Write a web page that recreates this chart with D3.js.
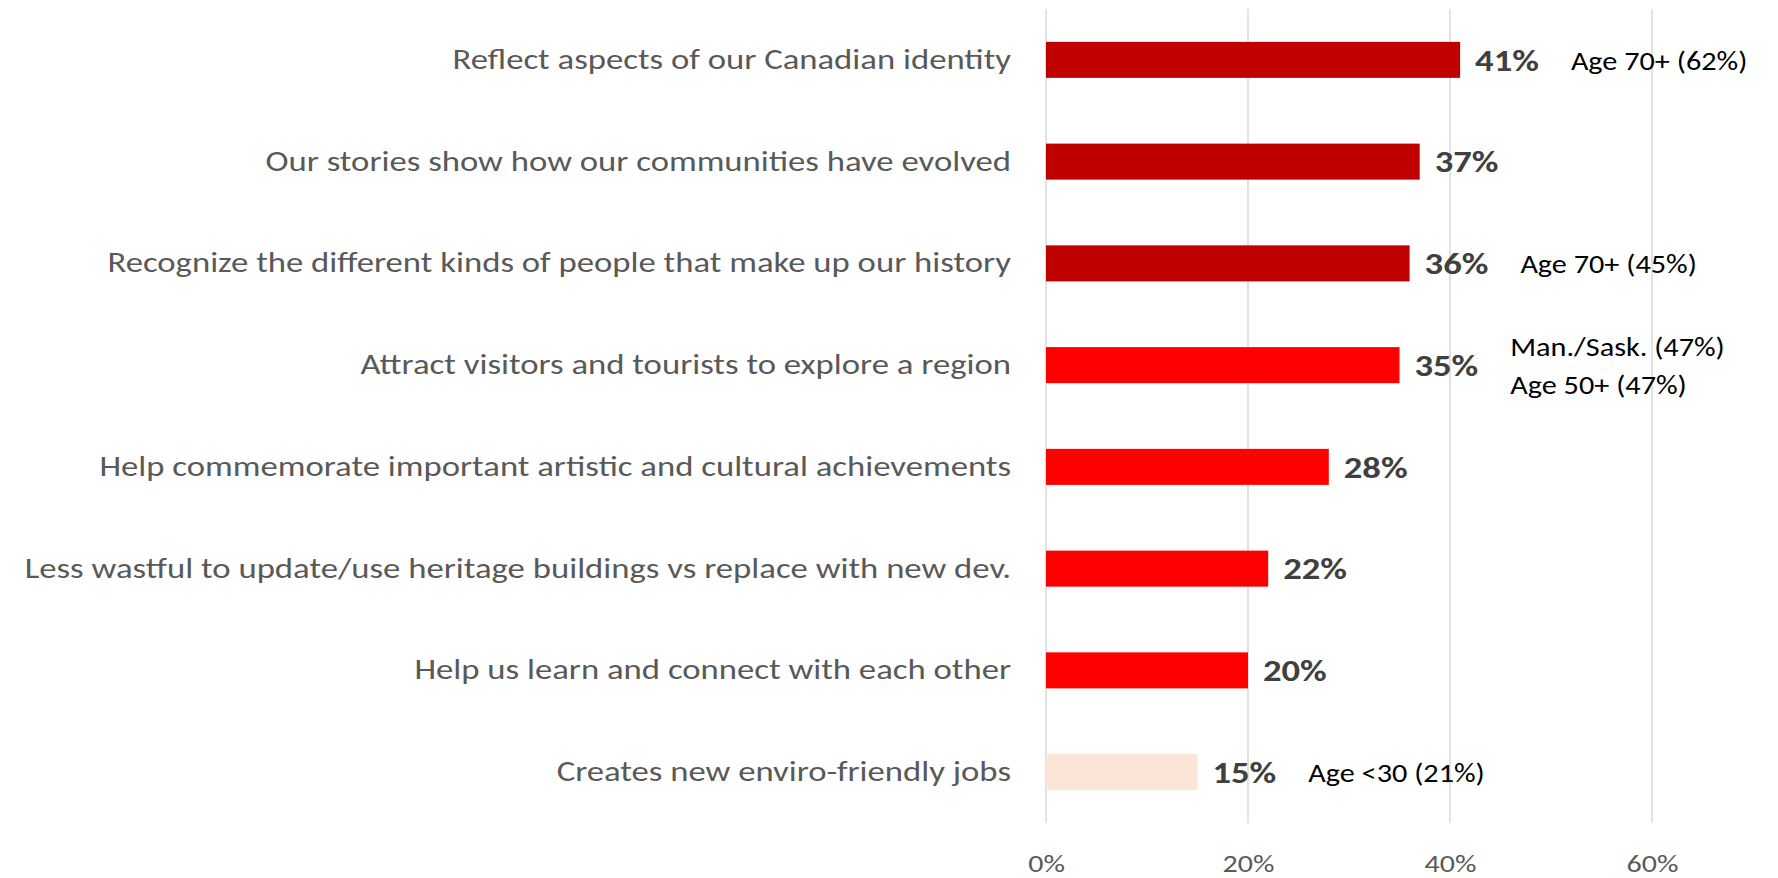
<!DOCTYPE html>
<html>
<head>
<meta charset="utf-8">
<script src="https://cdn.jsdelivr.net/npm/d3@7/dist/d3.min.js"></script>
<style>
  html, body { margin: 0; padding: 0; background: #ffffff; }
  svg { display: block; }
  text { font-family: Carlito, Calibri, Lato, "Open Sans", sans-serif; }
</style>
</head>
<body>
<svg id="chart" width="1778" height="878"></svg>
<script>
// Reasons for valuing heritage places (% of respondents)
const categories = [
  "Reflect aspects of our Canadian identity",
  "Our stories show how our communities have evolved",
  "Recognize the different kinds of people that make up our history",
  "Attract visitors and tourists to explore a region",
  "Help commemorate important artistic and cultural achievements",
  "Less wastful to update/use heritage buildings vs replace with new dev.",
  "Help us learn and connect with each other",
  "Creates new enviro-friendly jobs"
];
const values = [41, 37, 36, 35, 28, 22, 20, 15];
// Shading tier for each bar
const tiers = ["high", "high", "high", "mid", "mid", "mid", "mid", "low"];
// Sub-group call-outs shown beside bars
const notes = [
  ["Age 70+ (62%)"],
  [],
  ["Age 70+ (45%)"],
  ["Man./Sask. (47%)", "Age 50+ (47%)"],
  [],
  [],
  [],
  ["Age <30 (21%)"]
];
const xTicks = [0, 20, 40, 60];

const tierColor = { high: "#C00000", mid: "#FF0000", low: "#FBE5D6" };
const FONT = "Carlito, Calibri, Lato, 'Open Sans', sans-serif";

const svg = d3.select("#chart");
const plot = { left: 1046, right: 1652, top: 9, bottom: 823 };

const x = d3.scaleLinear().domain([0, 60]).range([plot.left, plot.right]);
const y = d3.scaleBand()
  .domain(categories)
  .range([plot.top, plot.bottom])
  .paddingInner(0.646)
  .paddingOuter(0.323);

// vertical gridlines
svg.append("g")
  .selectAll("line")
  .data(xTicks)
  .join("line")
  .attr("x1", d => x(d)).attr("x2", d => x(d))
  .attr("y1", plot.top).attr("y2", plot.bottom)
  .attr("stroke", "#d9d9d9")
  .attr("stroke-width", 1.5);

// bottom axis labels (slightly widened lettering)
const xAxis = svg.append("g")
  .attr("transform", `translate(0,${plot.bottom})`)
  .call(d3.axisBottom(x).tickValues(xTicks).tickSize(0).tickFormat(d => d + "%"));
xAxis.select(".domain").remove();
xAxis.selectAll("text")
  .attr("y", 49)
  .attr("dy", 0)
  .attr("transform", "scale(1.2,1)")
  .style("font-family", FONT)
  .style("font-size", "25px")
  .attr("fill", "#595959");

// category labels
const yAxis = svg.append("g")
  .attr("transform", `translate(${plot.left - 35},0)`)
  .call(d3.axisLeft(y).tickSize(0).tickPadding(0));
yAxis.select(".domain").remove();
yAxis.selectAll("text")
  .attr("x", 0)
  .attr("transform", "scale(1.24,1)")
  .style("font-family", FONT)
  .style("font-size", "28px")
  .attr("fill", "#595959");

const rows = categories.map((c, i) => ({ c, v: values[i], tier: tiers[i], notes: notes[i] }));
const cy = d => y(d.c) + y.bandwidth() / 2;

// bars
svg.append("g")
  .selectAll("rect")
  .data(rows)
  .join("rect")
  .attr("x", x(0))
  .attr("y", d => y(d.c))
  .attr("width", d => x(d.v) - x(0))
  .attr("height", y.bandwidth())
  .attr("fill", d => tierColor[d.tier]);

// value labels
const valueScale = 1.22;
const valueLabels = svg.append("g")
  .selectAll("text")
  .data(rows)
  .join("text")
  .attr("transform", d => `translate(${x(d.v) + 15},${cy(d)}) scale(${valueScale},1)`)
  .attr("dy", "0.36em")
  .style("font-size", "30px")
  .style("font-weight", "bold")
  .attr("fill", "#404040")
  .text(d => d.v + "%");

// sub-group call-outs
valueLabels.each(function (d) {
  if (!d.notes.length) return;
  const end = x(d.v) + 15 + this.getComputedTextLength() * valueScale;
  const lineH = 38;
  const first = cy(d) - (d.notes.length - 1) * lineH / 2;
  const g = svg.append("g");
  d.notes.forEach((t, k) => {
    g.append("text")
      .attr("transform", `translate(${end + 32},${first + k * lineH}) scale(1.12,1)`)
      .attr("dy", "0.36em")
      .style("font-size", "27px")
      .attr("fill", "#000000")
      .text(t);
  });
});
</script>
</body>
</html>
